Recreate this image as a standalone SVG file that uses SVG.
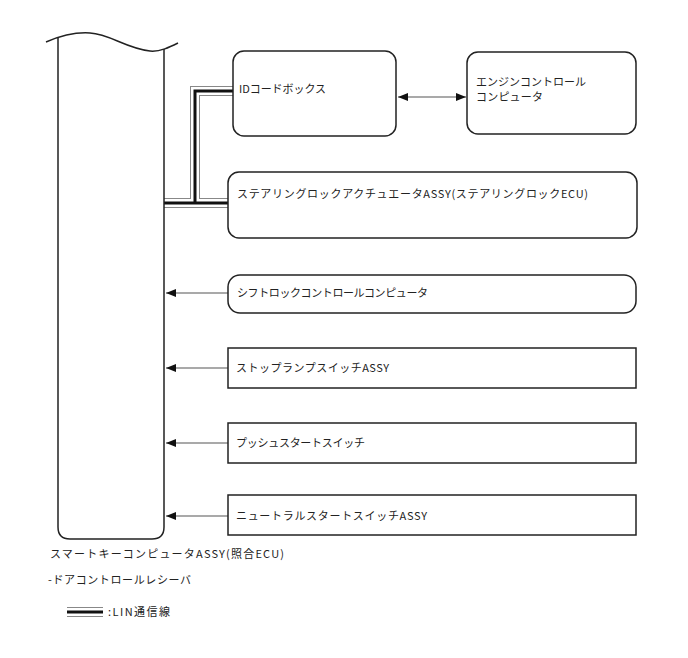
<svg xmlns="http://www.w3.org/2000/svg" width="688" height="658" viewBox="0 0 688 658">
<style>
text{font-family:"Noto Sans CJK JP","Noto Sans",sans-serif;font-size:11px;fill:#222}
.box{fill:#fff;stroke:#222;stroke-width:1.5}
.con{stroke:#555;stroke-width:1.2;fill:none}
.linG{stroke:#888;stroke-width:10;fill:none;stroke-linejoin:miter}
.linW{stroke:#fff;stroke-width:8;fill:none;stroke-linejoin:miter}
.linB{stroke:#111;stroke-width:3;fill:none;stroke-linejoin:miter}
</style>
<defs>
<marker id="ah" viewBox="0 0 10 8" refX="10" refY="4" markerWidth="10" markerHeight="8" markerUnits="userSpaceOnUse" orient="auto-start-reverse">
<path d="M0,0 L10,4 L0,8 Z" fill="#111"/>
</marker>
</defs>
<rect width="688" height="658" fill="#fff"/>
<g id="connectors">
<path class="linG" d="M164,203 H228 M195,203 V91 H233"/>
<path class="linW" d="M164,203 H228 M195,203 V91 H233"/>
<path class="linB" d="M164,203 H228 M195,203 V91 H233"/>
<line class="con" x1="398" y1="97" x2="466" y2="97" marker-start="url(#ah)" marker-end="url(#ah)"/>
<line class="con" x1="228" y1="293" x2="166" y2="293" marker-end="url(#ah)"/>
<line class="con" x1="228" y1="368" x2="166" y2="368" marker-end="url(#ah)"/>
<line class="con" x1="228" y1="443" x2="166" y2="443" marker-end="url(#ah)"/>
<line class="con" x1="228" y1="516" x2="166" y2="516" marker-end="url(#ah)"/>
</g>
<g id="smart-key">
<path d="M58,38 V527 Q58,539 70,539 H152 Q164,539 164,527 V49" fill="none" stroke="#222" stroke-width="1.5"/>
<path d="M46,42 C60,36 75,32 90,33 C110,34 125,48 150,51 C160,52 170,47 178,43" fill="none" stroke="#222" stroke-width="1.5"/>
<text x="50" y="558" textLength="234">スマートキーコンピュータASSY(照合ECU)</text>
<text x="48" y="584" textLength="143">-ドアコントロールレシーバ</text>
</g>
<g id="id-code-box">
<rect class="box" x="233" y="51" width="163" height="85" rx="11"/>
<text x="239" y="93" textLength="87">IDコードボックス</text>
</g>
<g id="engine-ecu">
<rect class="box" x="467" y="52" width="169" height="82" rx="11"/>
<text x="476" y="86" textLength="110">エンジンコントロール</text>
<text x="476" y="101" textLength="67">コンピュータ</text>
</g>
<g id="steering-lock">
<rect class="box" x="228" y="172" width="409" height="66" rx="11"/>
<text x="237" y="198" textLength="351">ステアリングロックアクチュエータASSY(ステアリングロックECU)</text>
</g>
<g id="shift-lock">
<rect class="box" x="228" y="275" width="408" height="38" rx="12"/>
<text x="237" y="297" textLength="191">シフトロックコントロールコンピュータ</text>
</g>
<g id="stop-lamp">
<rect class="box" x="228" y="348" width="408" height="40"/>
<text x="236" y="372" textLength="153">ストップランプスイッチASSY</text>
</g>
<g id="push-start">
<rect class="box" x="228" y="423" width="408" height="40"/>
<text x="236" y="447" textLength="129">プッシュスタートスイッチ</text>
</g>
<g id="neutral-start">
<rect class="box" x="228" y="495" width="408" height="40"/>
<text x="236" y="520" textLength="191">ニュートラルスタートスイッチASSY</text>
</g>
<g id="legend">
<line x1="67" y1="612" x2="103" y2="612" stroke="#888" stroke-width="10"/>
<line x1="67" y1="612" x2="103" y2="612" stroke="#fff" stroke-width="8"/>
<line x1="67" y1="612" x2="103" y2="612" stroke="#111" stroke-width="3"/>
<text x="108" y="616" textLength="62">:LIN通信線</text>
</g>
</svg>
